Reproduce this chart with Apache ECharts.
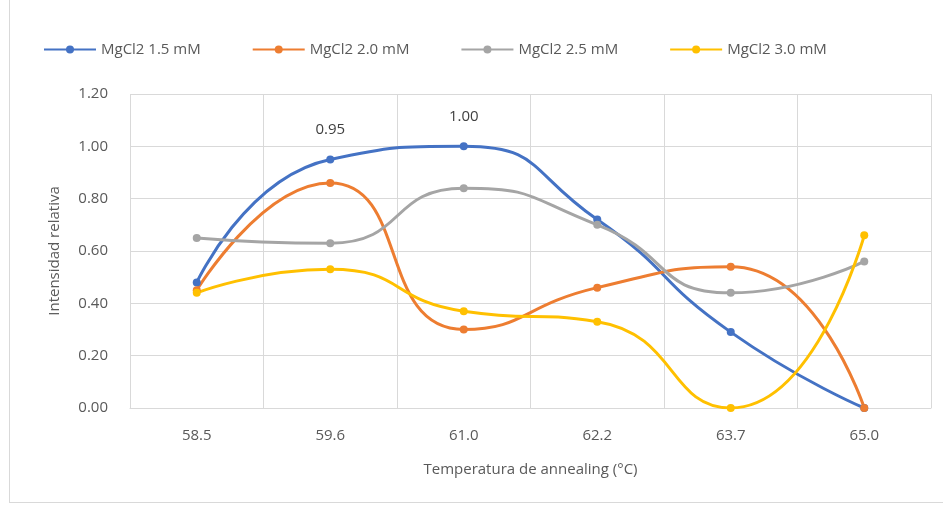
<!DOCTYPE html>
<html>
<head>
<meta charset="utf-8">
<script src="https://cdn.jsdelivr.net/npm/echarts@6/dist/echarts.min.js"></script>
<style>
  html, body { margin: 0; padding: 0; background: #fff; }
  #main { width: 943px; height: 506px; }
  #frame { position: absolute; left: 9px; top: 0px; width: 940px; height: 502px; border: 1px solid #d9d9d9; border-top: none; border-right: none; pointer-events: none; }
</style>
</head>
<body>
<div id="main"></div>
<div id="frame"></div>
<script>
// Temperaturas (categorias del eje x)
const temps = ['58.5', '59.6', '61.0', '62.2', '63.7', '65.0'];
// Intensidad relativa por concentracion de MgCl2
const mg15 = [0.48, 0.95, 1.00, 0.72, 0.29, 0.00];
const mg20 = [0.45, 0.86, 0.30, 0.46, 0.54, 0.00];
const mg25 = [0.65, 0.63, 0.84, 0.70, 0.44, 0.56];
const mg30 = [0.44, 0.53, 0.37, 0.33, 0.00, 0.66];
// indices con etiqueta de datos (solo serie 1.5 mM)
const labeled = [1, 2];

const names = ['MgCl2 1.5 mM', 'MgCl2 2.0 mM', 'MgCl2 2.5 mM', 'MgCl2 3.0 mM'];
const colors = ['#4472C4', '#ED7D31', '#A5A5A5', '#FFC000'];
const txt = '#595959';
const font = 'Open Sans';

function makeSeries(name, values, color, withLabels) {
  return {
    name: name,
    type: 'line',
    smooth: 0.55,
    data: values.map((v, i) => {
      if (withLabels && labeled.includes(i)) {
        return { value: v, label: { show: true } };
      }
      return v;
    }),
    symbol: 'circle',
    symbolSize: 8,
    lineStyle: { width: 3, color: color },
    itemStyle: { color: color },
    label: {
      show: false,
      position: 'top',
      distance: 18,
      color: '#404040',
      fontFamily: font,
      fontSize: 15,
      formatter: p => p.value.toFixed(2)
    },
    emphasis: { disabled: true }
  };
}

const myChart = echarts.init(document.getElementById('main'));
myChart.setOption({
  animation: false,
  color: colors,
  legend: {
    left: 38,
    top: 37,
    itemWidth: 52,
    itemHeight: 10,
    itemGap: 51,
    textStyle: { color: txt, fontFamily: font, fontSize: 15 },
    data: names
  },
  grid: { left: 130, right: 12, top: 94, bottom: 98 },
  xAxis: {
    type: 'category',
    data: temps,
    boundaryGap: true,
    name: 'Temperatura de annealing (°C)',
    nameLocation: 'middle',
    nameGap: 54,
    nameTextStyle: { color: txt, fontFamily: font, fontSize: 15 },
    axisLine: { lineStyle: { color: '#d9d9d9', width: 1 } },
    axisTick: { show: false },
    axisLabel: { color: txt, fontFamily: font, fontSize: 15, margin: 20 },
    splitLine: { show: true, lineStyle: { color: '#d9d9d9', width: 1 } }
  },
  yAxis: {
    type: 'value',
    min: 0,
    max: 1.2,
    interval: 0.2,
    name: 'Intensidad relativa',
    nameLocation: 'middle',
    nameGap: 68,
    nameTextStyle: { color: txt, fontFamily: font, fontSize: 15 },
    axisLine: { show: false },
    axisTick: { show: false },
    axisLabel: { color: txt, fontFamily: font, fontSize: 15, margin: 22, formatter: v => v.toFixed(2) },
    splitLine: { lineStyle: { color: '#d9d9d9', width: 1 } }
  },
  series: [
    makeSeries(names[0], mg15, colors[0], true),
    makeSeries(names[1], mg20, colors[1], false),
    makeSeries(names[2], mg25, colors[2], false),
    makeSeries(names[3], mg30, colors[3], false)
  ]
});
</script>
</body>
</html>
